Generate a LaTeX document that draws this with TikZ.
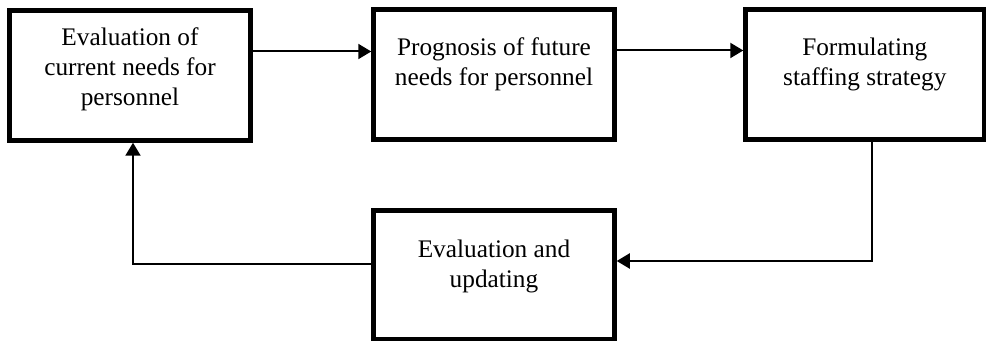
\documentclass[tikz,border=0pt]{standalone}
\usepackage{fontspec}
\setmainfont{Liberation Serif}
\usetikzlibrary{positioning,arrows.meta}

\begin{document}
\begin{tikzpicture}[x=1pt,y=1pt,
    stagebox/.style={draw,line width=2.25pt,minimum width=120.5pt,minimum height=65pt,inner sep=0pt},
    stagetext/.style={align=center,inner sep=0pt,font=\fontsize{12.65pt}{15pt}\selectfont},
    conn/.style={line width=1pt,-{Triangle[length=6.5pt,width=7.5pt]}}]
    \useasboundingbox (0,0) rectangle (493.5,171);

    \node[stagebox] (eval) at (65,133.25) {};
    \node[stagebox] (prog) at (247,133.75) {};
    \node[stagebox,minimum width=119.25pt] (strat) at (432.4,133.75) {};
    \node[stagebox,minimum height=64.25pt] (update) at (247,33.5) {};

    \node[stagetext,below=9.5pt of eval.north] (evaltxt) {Evaluation of\\current needs for\\personnel};
    \node[stagetext,below=15pt of prog.north] (progtxt) {Prognosis of future\\needs for personnel};
    \node[stagetext,below=15pt of strat.north] (strattxt) {Formulating\\staffing strategy};
    \node[stagetext,below=15.5pt of update.north] (updatetxt) {Evaluation and\\updating};

    \draw[conn] ([yshift=12pt]eval.east) -- ([yshift=12pt]eval.east -| prog.west);
    \draw[conn] ([yshift=12pt]prog.east) -- ([yshift=12pt]prog.east -| strat.west);
    \draw[conn] ([xshift=3.6pt]strat.south) |- ([yshift=7pt]update.east);
    \draw[conn] ([yshift=5.5pt]update.west) -| ([xshift=1.5pt]eval.south);
\end{tikzpicture}
\end{document}
